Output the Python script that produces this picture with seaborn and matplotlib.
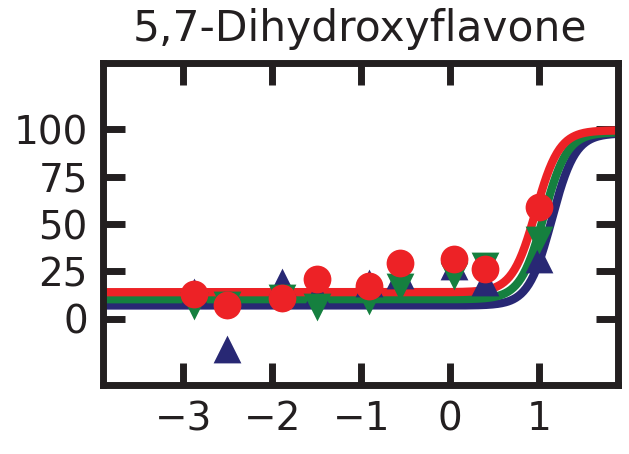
import numpy as np
import pandas as pd
import matplotlib
matplotlib.use("Agg")
import matplotlib.pyplot as plt
import seaborn as sns

# log10 concentration and response (%) for three replicate series
log_conc = [-2.88, -2.51, -1.886, -1.50, -0.916, -0.56, 0.036, 0.39, 1.0]
resp_blue = [14.0, -16.2, 19.3, 13.0, 19.0, 23.0, 28.0, 19.6, 31.6]
resp_green = [6.7, 7.0, 11.0, 6.3, 9.1, 17.0, 22.8, 27.7, 41.6]
resp_red = [12.8, 7.0, 10.9, 21.0, 17.5, 29.5, 31.6, 26.3, 59.0]

# four-parameter logistic fits: bottom, top, logEC50, hill slope
fit_blue = [7.0, 98.0, 1.14, 3.3]
fit_green = [10.3, 98.5, 1.05, 3.3]
fit_red = [14.0, 99.5, 0.96, 3.3]

series_names = ["blue", "green", "red"]
colors = {"blue": "#282874", "green": "#15803F", "red": "#ED2226"}
markers = {"blue": "^", "green": "v", "red": "o"}

title = "5,7-Dihydroxyflavone"
xticks = [-3, -2, -1, 0, 1]
yticks = [0, 25, 50, 75, 100]
xlim = (-3.9, 1.88)
ylim = (-35, 135)


def logistic(x, bottom, top, logec50, hill):
    return bottom + (top - bottom) / (1.0 + 10 ** ((logec50 - x) * hill))


points = pd.DataFrame({
    "x": log_conc * 3,
    "y": resp_blue + resp_green + resp_red,
    "series": sum([[s] * len(log_conc) for s in series_names], []),
})

xs = np.linspace(xlim[0], xlim[1], 400)
curves = pd.concat([
    pd.DataFrame({"x": xs, "y": logistic(xs, *p), "series": s})
    for s, p in zip(series_names, [fit_blue, fit_green, fit_red])
])

sns.set_theme(style="white")
plt.rcParams["font.family"] = ["DejaVu Sans"]

fig = plt.figure(figsize=(6.29, 4.54), dpi=100)
ax = fig.add_axes([0.164, 0.152, 0.818, 0.709])

for s in series_names:
    sns.lineplot(data=curves[curves.series == s], x="x", y="y", color=colors[s],
                 linewidth=6, ax=ax, zorder=2, legend=False)
for s in series_names:
    sub = points[points.series == s]
    sns.scatterplot(data=sub, x="x", y="y", color=colors[s], marker=markers[s],
                    s=400, linewidth=0, ax=ax, zorder=3, legend=False)

ax.set_xlim(*xlim)
ax.set_ylim(*ylim)
ax.set_xticks(xticks)
ax.set_yticks(yticks)
ax.set_xlabel("")
ax.set_ylabel("")
ax.set_title(title, fontsize=30.5, pad=16, color="#231F20")

for sp in ax.spines.values():
    sp.set_visible(True)
    sp.set_linewidth(5)
    sp.set_color("#231F20")

ax.tick_params(axis="both", which="major", direction="in", length=16, width=5,
               color="#231F20", labelsize=28, labelcolor="#231F20",
               top=True, right=True, bottom=True, left=True, pad=11)

fig.savefig("out.png", dpi=100)
